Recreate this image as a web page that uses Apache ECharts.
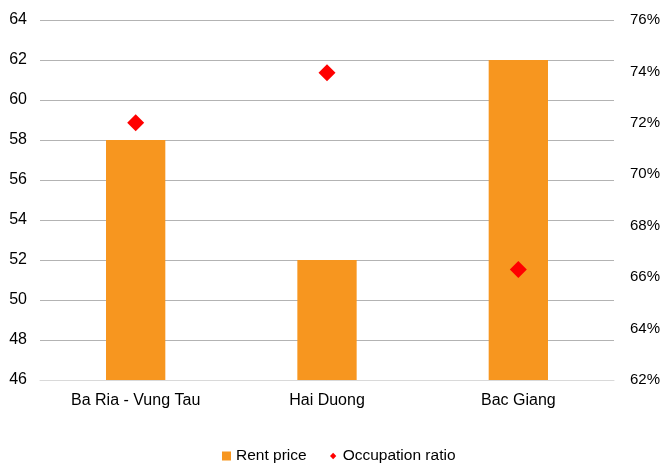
<!DOCTYPE html>
<html>
<head>
<meta charset="utf-8">
<script src="https://cdn.jsdelivr.net/npm/echarts@6/dist/echarts.min.js"></script>
<style>
  html, body { margin: 0; padding: 0; background: #fff; }
  #chart { width: 660px; height: 463px; }
</style>
</head>
<body>
<div id="chart"></div>
<script>
const provinces = ['Ba Ria - Vung Tau', 'Hai Duong', 'Bac Giang']
const rentPrice = [58, 52, 62]
const occupationRatio = [72.0, 73.95, 66.3]

const font = 'Liberation Sans, Arial, sans-serif'

echarts.init(document.getElementById('chart')).setOption({
    animation: false,
    textStyle: {fontFamily: font},
    grid: {
        left: 40,
        right: 46,
        top: 20,
        bottom: 83,
        outerBoundsMode: 'none'
    },
    legend: {
        data: [
            {name: 'Rent price', icon: 'rect', itemStyle: {color: '#f7961f'}},
            // invisible moves pad the box so the diamond draws smaller
            {name: 'Occupation ratio', icon: 'path://M0,0 M10,10 M5,1.5 L8.5,5 L5,8.5 L1.5,5 Z'}
        ],
        left: 217,
        top: 443,
        itemWidth: 9,
        itemHeight: 9,
        itemGap: 22,
        itemTextGap: 4,
        textStyle: {
            color: '#000',
            fontSize: 15.5,
            fontFamily: font
        }
    },
    xAxis: {
        type: 'category',
        data: provinces,
        axisTick: {show: false},
        axisLine: {lineStyle: {color: '#d9d9d9', width: 1}},
        axisLabel: {
            color: '#000',
            fontSize: 16,
            margin: 13,
            fontFamily: font
        }
    },
    yAxis: [
        {
            type: 'value',
            min: 46,
            max: 64,
            interval: 2,
            axisLine: {show: false},
            axisTick: {show: false},
            axisLabel: {color: '#000', fontSize: 16, margin: 13, fontFamily: font},
            splitLine: {lineStyle: {color: '#b3b3b3', width: 1}}
        },
        {
            type: 'value',
            min: 62,
            max: 76,
            interval: 2,
            position: 'right',
            axisLine: {show: false},
            axisTick: {show: false},
            splitLine: {show: false},
            axisLabel: {
                color: '#000',
                fontSize: 15,
                margin: 16,
                fontFamily: font,
                formatter: '{value}%'
            }
        }
    ],
    series: [
        {
            name: 'Rent price',
            type: 'bar',
            data: rentPrice,
            barWidth: '31%',
            itemStyle: {color: '#f7961f'}
        },
        {
            name: 'Occupation ratio',
            type: 'scatter',
            yAxisIndex: 1,
            data: occupationRatio,
            symbol: 'diamond',
            symbolSize: [17, 17],
            itemStyle: {color: '#ff0000', opacity: 1},
            z: 5
        }
    ]
})
</script>
</body>
</html>
